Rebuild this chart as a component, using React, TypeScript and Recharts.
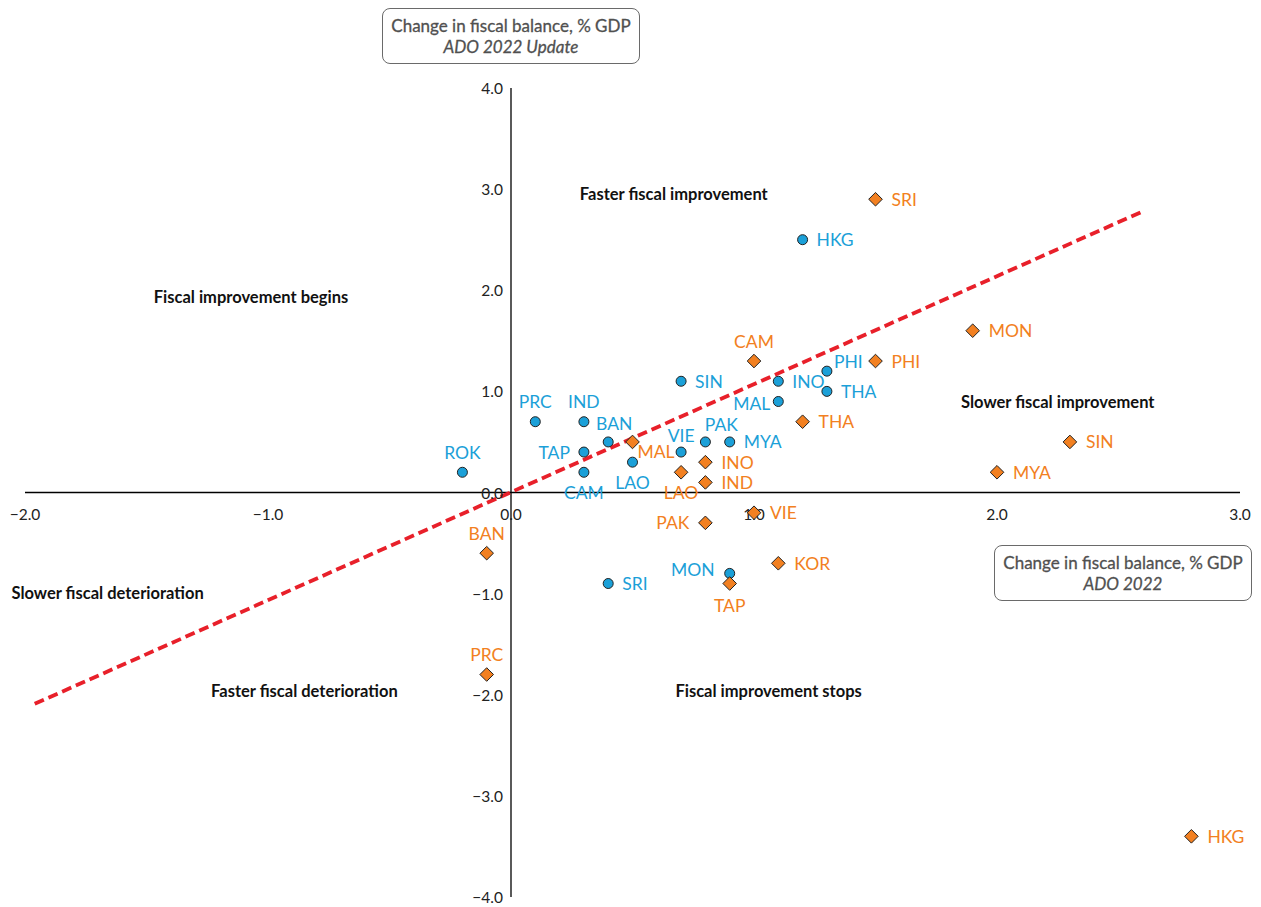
import React from 'react';
import { ScatterChart, Scatter, XAxis, YAxis, ReferenceLine } from 'recharts';

// ADO 2022 Update (blue circles)
const updateNames = ['ROK', 'PRC', 'IND', 'BAN', 'TAP', 'CAM', 'LAO', 'SIN', 'VIE', 'PAK', 'MYA', 'INO', 'MAL', 'PHI', 'THA', 'HKG', 'MON', 'SRI'];
const updateX = [-0.2, 0.1, 0.3, 0.4, 0.3, 0.3, 0.5, 0.7, 0.7, 0.8, 0.9, 1.1, 1.1, 1.3, 1.3, 1.2, 0.9, 0.4];
const updateY = [0.2, 0.7, 0.7, 0.5, 0.4, 0.2, 0.3, 1.1, 0.4, 0.5, 0.5, 1.1, 0.9, 1.2, 1.0, 2.5, -0.8, -0.9];

// ADO 2022 (orange diamonds)
const adoNames = ['SRI', 'MON', 'CAM', 'PHI', 'THA', 'SIN', 'MYA', 'MAL', 'LAO', 'INO', 'IND', 'VIE', 'PAK', 'BAN', 'KOR', 'TAP', 'PRC', 'HKG'];
const adoX = [1.5, 1.9, 1.0, 1.5, 1.2, 2.3, 2.0, 0.5, 0.7, 0.8, 0.8, 1.0, 0.8, -0.1, 1.1, 0.9, -0.1, 2.8];
const adoY = [2.9, 1.6, 1.3, 1.3, 0.7, 0.5, 0.2, 0.5, 0.2, 0.3, 0.1, -0.2, -0.3, -0.6, -0.7, -0.9, -1.8, -3.4];

// trend line endpoints
const trendX = [-1.96, 2.6];
const trendY = [-2.09, 2.78];

// axis ticks
const xTicks = [-2, -1, 0, 1, 2, 3];
const yTicks = [-4, -3, -2, -1, 0, 1, 2, 3, 4];

// quadrant annotations
const noteTexts = ['Faster fiscal improvement', 'Fiscal improvement begins', 'Slower fiscal improvement', 'Slower fiscal deterioration', 'Faster fiscal deterioration', 'Fiscal improvement stops'];
const noteX = [0.67, -1.07, 2.25, -1.66, -0.85, 1.06];
const noteY = [2.95, 1.93, 0.89, -0.99, -1.96, -1.96];

// label placement (layout only)
const updatePos: Record<string, [string, number?, number?]> = {
  ROK: ['top'], PRC: ['top'], IND: ['top'], BAN: ['top', 6, 2], TAP: ['left'], CAM: ['bottom'],
  LAO: ['bottom'], SIN: ['right'], VIE: ['top', 0, 3], PAK: ['top', 16, 3], MYA: ['right'], INO: ['right'],
  MAL: ['left', 6, 2], PHI: ['right', -7, -10], THA: ['right'], HKG: ['right'], MON: ['left', -1, -4], SRI: ['right'],
};
const adoPos: Record<string, [string, number?, number?]> = {
  SRI: ['right'], MON: ['right'], CAM: ['top'], PHI: ['right'], THA: ['right'], SIN: ['right'], MYA: ['right'],
  MAL: ['right', -11, 10], LAO: ['bottom'], INO: ['right'], IND: ['right'], VIE: ['right'], PAK: ['left'],
  BAN: ['top'], KOR: ['right'], TAP: ['bottom', 0, 2], PRC: ['top'], HKG: ['right'],
};

const BLUE = '#1BA0D8';
const ORANGE = '#F28021';
const FONT = 'Lato, "Noto Sans", sans-serif';

const updateData = updateNames.map((n, i) => ({ name: n, x: updateX[i], y: updateY[i] }));
const adoData = adoNames.map((n, i) => ({ name: n, x: adoX[i], y: adoY[i] }));
const xTickData = xTicks.map((v) => ({ x: v, y: 0, label: v === 0 ? '0.0' : (v < 0 ? '\u2212' : '') + Math.abs(v).toFixed(1) }));
const yTickData = yTicks.map((v) => ({ x: 0, y: v, label: v === 0 ? '0.0' : (v < 0 ? '\u2212' : '') + Math.abs(v).toFixed(1) }));
const noteData = noteTexts.map((t, i) => ({ x: noteX[i], y: noteY[i], label: t }));

function labelProps(cx: number, cy: number, pos: [string, number?, number?], side: number) {
  const [p, dx = 0, dy = 0] = pos;
  if (p === 'top') return { x: cx + dx, y: cy - 20 + dy, anchor: 'middle' };
  if (p === 'bottom') return { x: cx + dx, y: cy + 20 + dy, anchor: 'middle' };
  if (p === 'left') return { x: cx - side + dx, y: cy + dy, anchor: 'end' };
  return { x: cx + side + dx, y: cy + dy, anchor: 'start' };
}

const CircleShape = (props: any) => {
  const { cx, cy, payload } = props;
  const lp = labelProps(cx, cy, updatePos[payload.name] || ['right'], 14);
  return (
    <g>
      <circle cx={cx} cy={cy} r={5} fill={BLUE} stroke="#222" strokeWidth={1} />
      <text x={lp.x} y={lp.y} textAnchor={lp.anchor as any} dominantBaseline="central" fill={BLUE} fontSize={17.5} fontFamily={FONT}>
        {payload.name}
      </text>
    </g>
  );
};

const DiamondShape = (props: any) => {
  const { cx, cy, payload } = props;
  const s = 6.8;
  const lp = labelProps(cx, cy, adoPos[payload.name] || ['right'], 16);
  return (
    <g>
      <polygon points={`${cx},${cy - s} ${cx + s},${cy} ${cx},${cy + s} ${cx - s},${cy}`} fill={ORANGE} stroke="#222" strokeWidth={1} />
      <text x={lp.x} y={lp.y} textAnchor={lp.anchor as any} dominantBaseline="central" fill={ORANGE} fontSize={17.5} fontFamily={FONT}>
        {payload.name}
      </text>
    </g>
  );
};

const XTickShape = (props: any) => {
  const { cx, cy, payload } = props;
  return (
    <text x={cx} y={cy + 21} textAnchor="middle" dominantBaseline="central" fill="#222" fontSize={15.5} fontFamily={FONT}>
      {payload.label}
    </text>
  );
};

const YTickShape = (props: any) => {
  const { cx, cy, payload } = props;
  return (
    <text x={cx - 8} y={cy} textAnchor="end" dominantBaseline="central" fill="#222" fontSize={15.5} fontFamily={FONT}>
      {payload.label}
    </text>
  );
};

const NoteShape = (props: any) => {
  const { cx, cy, payload } = props;
  return (
    <text x={cx} y={cy} textAnchor="middle" dominantBaseline="central" fill="#111" fontSize={16.5} fontWeight={700} fontFamily={FONT}>
      {payload.label}
    </text>
  );
};

const boxStyle: React.CSSProperties = {
  position: 'absolute',
  width: 258,
  height: 56,
  border: '1.3px solid #6a6a6a',
  borderRadius: 8,
  background: '#fff',
  color: '#505050',
  fontFamily: FONT,
  fontSize: 17,
  lineHeight: '21px',
  textAlign: 'center',
  display: 'flex',
  flexDirection: 'column',
  justifyContent: 'center',
  boxSizing: 'border-box',
  WebkitTextStroke: '0.3px #505050',
};

export default function App() {
  return (
    <div style={{ position: 'absolute', left: 0, top: 0, width: 1261, height: 907, background: '#fff' }}>
      <ScatterChart width={1261} height={907} margin={{ top: 88, right: 21, bottom: 10, left: 25 }}>
        <XAxis type="number" dataKey="x" domain={[-2, 3]} hide />
        <YAxis type="number" dataKey="y" domain={[-4, 4]} hide />
        <ReferenceLine x={0} stroke="#000" strokeWidth={1.3} />
        <ReferenceLine y={0} stroke="#000" strokeWidth={1.3} />
        <ReferenceLine
          segment={[{ x: trendX[0], y: trendY[0] }, { x: trendX[1], y: trendY[1] }]}
          stroke="#E8202A"
          strokeWidth={3.8}
          strokeDasharray="10 5"
        />
        <Scatter data={xTickData} shape={XTickShape} isAnimationActive={false} />
        <Scatter data={yTickData} shape={YTickShape} isAnimationActive={false} />
        <Scatter data={noteData} shape={NoteShape} isAnimationActive={false} />
        <Scatter data={updateData} shape={CircleShape} isAnimationActive={false} />
        <Scatter data={adoData} shape={DiamondShape} isAnimationActive={false} />
      </ScatterChart>
      <div style={{ ...boxStyle, left: 382, top: 8 }}>
        <div>Change in fiscal balance, % GDP</div>
        <div style={{ fontStyle: 'italic' }}>ADO 2022 Update</div>
      </div>
      <div style={{ ...boxStyle, left: 994, top: 545 }}>
        <div>Change in fiscal balance, % GDP</div>
        <div style={{ fontStyle: 'italic' }}>ADO 2022</div>
      </div>
    </div>
  );
}
